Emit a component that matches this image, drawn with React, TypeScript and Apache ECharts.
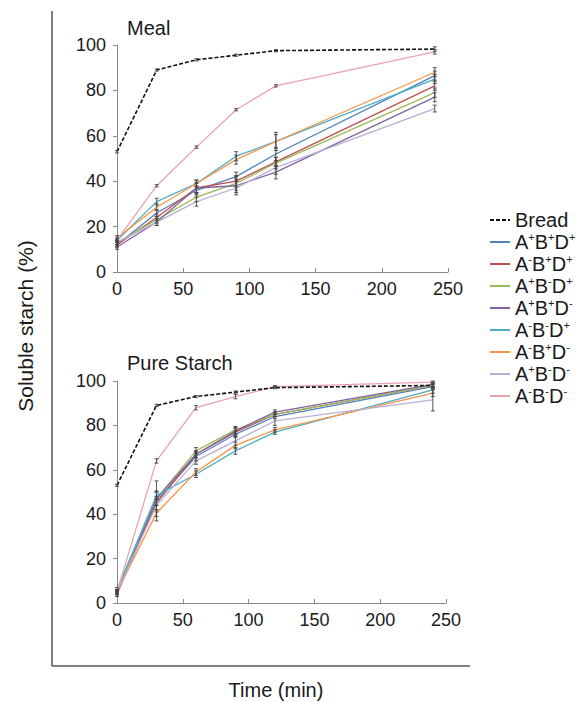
import React, { useEffect, useRef } from "react";
import * as echarts from "echarts";

const times = [0, 30, 60, 90, 120, 240];
const seriesNames = ["Bread", "A+B+D+", "A-B+D+", "A+B-D+", "A+B+D-", "A-B-D+", "A-B+D-", "A+B-D-", "A-B-D-"];
const seriesColors = ["#111111", "#4F81BD", "#C0504D", "#9BBB59", "#8064A2", "#4BACC6", "#F79646", "#B8AED6", "#E8A2AC"];

// Meal panel values (%)
const mealBread = [53, 89, 93.5, 95.5, 97.5, 98.2];
const mealApBpDp = [12, 26, 36, 42, 52, 86.5];
const mealAmBpDp = [12, 24, 37, 40, 48.5, 82];
const mealApBmDp = [13, 23, 33, 39, 48, 79];
const mealApBpDm = [11, 22, 37, 38, 44, 77];
const mealAmBmDp = [14, 31, 39, 51, 57.5, 85];
const mealAmBpDm = [15, 28.5, 39, 49.5, 57.5, 88];
const mealApBmDm = [13, 22, 31, 37, 46, 72];
const mealAmBmDm = [14, 38, 55, 71.5, 82, 97];

// Meal panel error (± %)
const mealErrBread = [0.5, 0.5, 0.5, 0.5, 0.5, 1];
const mealErrApBpDp = [1, 1.5, 2, 2, 3, 2];
const mealErrAmBpDp = [1, 1.5, 2, 2.5, 2, 2];
const mealErrApBmDp = [1, 1.5, 2, 3, 2.5, 2];
const mealErrApBpDm = [1, 1.5, 2.5, 3, 3, 2];
const mealErrAmBmDp = [1, 1.5, 1.5, 2, 3, 2];
const mealErrAmBpDm = [1, 1.5, 1.5, 2, 4, 2];
const mealErrApBmDm = [1, 1.5, 2, 3, 3, 1.5];
const mealErrAmBmDm = [0.5, 0.5, 0.5, 0.5, 0.5, 1];

// Pure starch panel values (%)
const pureBread = [53, 89, 93, 95, 97, 98];
const pureApBpDp = [4, 46, 66, 76, 84, 97.5];
const pureAmBpDp = [5, 45, 67, 77, 85, 98];
const pureApBmDp = [5, 47, 68.5, 78, 85, 98];
const pureApBpDm = [4, 47, 67, 77.5, 86, 98.5];
const pureAmBmDp = [6, 48.5, 58, 68.5, 77, 96];
const pureAmBpDm = [5, 40.5, 59, 71, 78, 94.5];
const pureApBmDm = [5, 44, 64, 73, 82, 91.5];
const pureAmBmDm = [5, 64, 88, 93, 97.5, 99.5];

// Pure starch panel error (± %)
const pureErrBread = [0.5, 0.5, 0.5, 0.5, 0.5, 0.5];
const pureErrApBpDp = [1, 9, 2, 1.5, 1, 1];
const pureErrAmBpDp = [1, 3, 1.5, 1.5, 1, 1];
const pureErrApBmDp = [1, 3, 1.5, 1.5, 1, 1];
const pureErrApBpDm = [1, 3, 1.5, 1.5, 1, 1];
const pureErrAmBmDp = [1, 2, 1.5, 1.5, 1, 1.5];
const pureErrAmBpDm = [1, 1.5, 1.5, 1.5, 1, 1.5];
const pureErrApBmDm = [1, 3, 1.5, 2, 2, 5];
const pureErrAmBmDm = [0.5, 1, 1, 1, 0.5, 0.5];

const mealValues = [mealBread, mealApBpDp, mealAmBpDp, mealApBmDp, mealApBpDm, mealAmBmDp, mealAmBpDm, mealApBmDm, mealAmBmDm];
const mealErrors = [mealErrBread, mealErrApBpDp, mealErrAmBpDp, mealErrApBmDp, mealErrApBpDm, mealErrAmBmDp, mealErrAmBpDm, mealErrApBmDm, mealErrAmBmDm];
const pureValues = [pureBread, pureApBpDp, pureAmBpDp, pureApBmDp, pureApBpDm, pureAmBmDp, pureAmBpDm, pureApBmDm, pureAmBmDm];
const pureErrors = [pureErrBread, pureErrApBpDp, pureErrAmBpDp, pureErrApBmDp, pureErrApBpDm, pureErrAmBmDp, pureErrAmBpDm, pureErrApBmDm, pureErrAmBmDm];

const FONT = "Liberation Sans, Arial, sans-serif";
const TXT = "#1a1a1a";

function buildLines(values: number[][], gridIdx: number) {
  return values.map((vals, i) => ({
    name: seriesNames[i],
    type: "line",
    xAxisIndex: gridIdx,
    yAxisIndex: gridIdx,
    data: times.map((t, j) => [t, vals[j]]),
    symbol: "none",
    z: i === 0 ? 3 : 2,
    itemStyle: { color: seriesColors[i] },
    lineStyle: {
      color: seriesColors[i],
      width: i === 0 ? 1.6 : 1.3,
      type: i === 0 ? [4, 2] : "solid",
    },
  }));
}

function buildErrors(values: number[][], errors: number[][], gridIdx: number) {
  const data: number[][] = [];
  values.forEach((vals, i) => {
    times.forEach((t, j) => {
      data.push([t, vals[j] - errors[i][j], vals[j] + errors[i][j]]);
    });
  });
  return {
    type: "custom",
    xAxisIndex: gridIdx,
    yAxisIndex: gridIdx,
    z: 4,
    silent: true,
    encode: { x: 0, y: [1, 2] },
    data,
    renderItem: (params: any, api: any) => {
      const x = api.value(0);
      const lo = api.coord([x, api.value(1)]);
      const hi = api.coord([x, api.value(2)]);
      const st = { stroke: "#444", lineWidth: 0.9 };
      return {
        type: "group",
        children: [
          { type: "line", shape: { x1: lo[0], y1: lo[1], x2: hi[0], y2: hi[1] }, style: st },
          { type: "line", shape: { x1: lo[0] - 2, y1: lo[1], x2: lo[0] + 2, y2: lo[1] }, style: st },
          { type: "line", shape: { x1: hi[0] - 2, y1: hi[1], x2: hi[0] + 2, y2: hi[1] }, style: st },
        ],
      };
    },
  };
}

function axisX(gridIndex: number) {
  return {
    type: "value",
    gridIndex,
    min: 0,
    max: 250,
    interval: 50,
    axisLine: { show: true, lineStyle: { color: "#8a8a8a", width: 1 } },
    axisTick: { show: true, length: 4, inside: true, lineStyle: { color: "#8a8a8a" } },
    axisLabel: { fontSize: 18, color: TXT, fontFamily: FONT, margin: 8 },
    splitLine: { show: false },
  };
}

function axisY(gridIndex: number) {
  return {
    type: "value",
    gridIndex,
    min: 0,
    max: 100,
    interval: 20,
    axisLine: { show: true, lineStyle: { color: "#8a8a8a", width: 1 } },
    axisTick: { show: true, length: 4, lineStyle: { color: "#8a8a8a" } },
    axisLabel: { fontSize: 18, color: TXT, fontFamily: FONT, margin: 11 },
    splitLine: { show: false },
  };
}

export default function App() {
  const ref = useRef<HTMLDivElement>(null);
  useEffect(() => {
    if (!ref.current) return;
    const chart = echarts.init(ref.current, null, { renderer: "svg" });
    chart.setOption({
      animation: false,
      backgroundColor: "#ffffff",
      textStyle: { fontFamily: FONT },
      grid: [
        { left: 117, top: 45, width: 331, height: 227 },
        { left: 117, top: 381, width: 329, height: 222 },
      ],
      xAxis: [axisX(0), axisX(1)],
      yAxis: [axisY(0), axisY(1)],
      legend: {
        orient: "vertical",
        left: 484,
        top: 204,
        itemWidth: 20,
        itemHeight: 14,
        itemGap: 0,
        data: seriesNames,
        itemStyle: { opacity: 0 },
        formatter: (name: string) => name.replace(/([+-])/g, "{s|$1}"),
        textStyle: {
          fontSize: 20,
          color: TXT,
          fontFamily: FONT,
          lineHeight: 22,
          rich: {
            s: { fontSize: 11, verticalAlign: "top", lineHeight: 22, color: TXT, fontFamily: FONT },
          },
        },
      },
      graphic: [
        { type: "text", x: 127, y: 28, style: { text: "Meal", fontSize: 20, fill: TXT, fontFamily: FONT, verticalAlign: "middle" } },
        { type: "text", x: 127, y: 363, style: { text: "Pure Starch", fontSize: 20, fill: TXT, fontFamily: FONT, verticalAlign: "middle" } },
        {
          type: "text",
          x: 25,
          y: 326,
          rotation: Math.PI / 2,
          style: { text: "Soluble starch (%)", fontSize: 21, fill: TXT, fontFamily: FONT, align: "center", verticalAlign: "middle" },
        },
        {
          type: "text",
          x: 276,
          y: 690,
          style: { text: "Time (min)", fontSize: 20, fill: TXT, fontFamily: FONT, align: "center", verticalAlign: "middle" },
        },
        { type: "line", shape: { x1: 52, y1: 11, x2: 52, y2: 666 }, style: { stroke: "#555", lineWidth: 1.5 } },
        { type: "line", shape: { x1: 52, y1: 666, x2: 470, y2: 666 }, style: { stroke: "#555", lineWidth: 1.5 } },
      ],
      series: [
        ...buildLines(mealValues, 0),
        ...buildLines(pureValues, 1),
        buildErrors(mealValues, mealErrors, 0),
        buildErrors(pureValues, pureErrors, 1),
      ],
    });
    return () => chart.dispose();
  }, []);
  return <div ref={ref} style={{ width: 582, height: 702, position: "absolute", left: 0, top: 0 }} />;
}
